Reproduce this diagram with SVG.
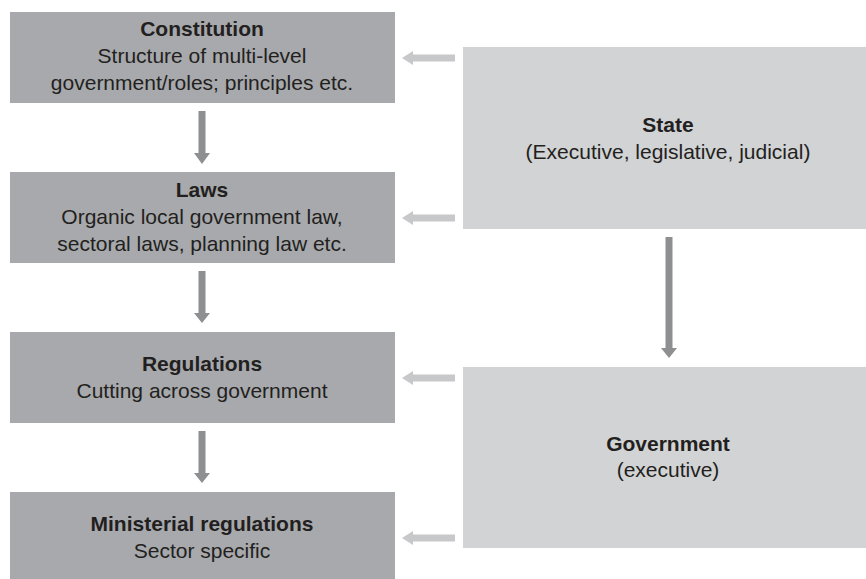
<svg xmlns="http://www.w3.org/2000/svg" width="866" height="579" viewBox="0 0 866 579">
<style>
.l{fill:#a7a9ac}
.r{fill:#d1d3d4}
text{font-family:"Liberation Sans",Arial,sans-serif;font-size:21px;fill:#231f20;text-anchor:middle}
.b{font-weight:bold}
.h{fill:#c7c8ca}
.v{fill:#8e8f91}
</style>
<rect width="866" height="579" fill="#fff"/>
<g id="constitution"><rect class="l" x="10" y="12" width="385" height="91"/>
<text x="202" y="36" class="b">Constitution</text><text x="202" y="63">Structure of multi-level</text><text x="202" y="90">government/roles; principles etc.</text></g>
<g id="laws"><rect class="l" x="10" y="172" width="385" height="91"/>
<text x="202" y="197" class="b">Laws</text><text x="202" y="224">Organic local government law,</text><text x="202" y="251">sectoral laws, planning law etc.</text></g>
<g id="regulations"><rect class="l" x="10" y="332" width="385" height="91"/>
<text x="202" y="371" class="b">Regulations</text><text x="202" y="398">Cutting across government</text></g>
<g id="ministerial"><rect class="l" x="10" y="492" width="385" height="87"/>
<text x="202" y="531" class="b">Ministerial regulations</text><text x="202" y="558">Sector specific</text></g>
<g id="state"><rect class="r" x="463" y="47" width="403" height="182"/>
<text x="668" y="132" class="b">State</text><text x="668" y="159">(Executive, legislative, judicial)</text></g>
<g id="government"><rect class="r" x="463" y="367" width="403" height="181"/>
<text x="668" y="451" class="b">Government</text><text x="668" y="477">(executive)</text></g>
<g id="connectors">
<path class="h" d="M455 54.5H413V51L402 58L413 65V61.5H455Z"/>
<path class="h" d="M455 214.5H413V211L402 218L413 225V221.5H455Z"/>
<path class="h" d="M455 374.5H413V371L402 378L413 385V381.5H455Z"/>
<path class="h" d="M455 534.5H413V531L402 538L413 545V541.5H455Z"/>
<path class="v" d="M198.5 111H205.5V153H210L202 164L194 153H198.5Z"/>
<path class="v" d="M198.5 271H205.5V313H210L202 323L194 313H198.5Z"/>
<path class="v" d="M198.5 431H205.5V473H210L202 483L194 473H198.5Z"/>
<path class="v" d="M665.5 237H672.5V348H677L669 358L661 348H665.5Z"/>
</g>
</svg>
